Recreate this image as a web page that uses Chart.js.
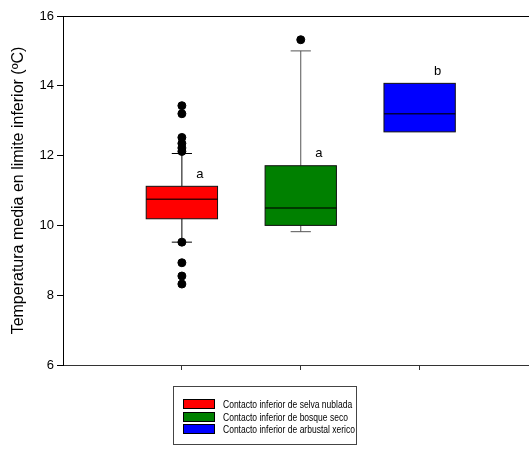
<!DOCTYPE html>
<html>
<head>
<meta charset="utf-8">
<script src="https://cdn.jsdelivr.net/npm/chart.js@4.4.1/dist/chart.umd.min.js"></script>
<style>
  html, body { margin: 0; padding: 0; background: #fff; }
  #wrap { position: relative; width: 529px; height: 451px; }
  #legend {
    position: absolute; left: 173px; top: 386px; width: 184px; height: 59px;
    border: 1px solid #444; box-sizing: border-box; padding-top: 11px;
    font-family: "Liberation Sans", Arial, sans-serif; font-size: 11.5px; color: #000;
  }
  .leg-item { display: flex; align-items: center; height: 12.5px; padding-left: 9px; white-space: nowrap; }
  .leg-box { flex: none; width: 30px; height: 8px; border: 1px solid #000; margin-right: 8px; }
  .leg-text { display: inline-block; transform: scaleX(0.74); transform-origin: left center; }
</style>
</head>
<body>
<div id="wrap">
  <canvas id="chart" width="529" height="451"></canvas>
  <div id="legend"></div>
</div>
<script>
// カテゴリと箱ひげ図の値
const categories = [
  'Contacto inferior de selva nublada',
  'Contacto inferior de bosque seco',
  'Contacto inferior de arbustal xerico',
];
const boxColors = ['#ff0000', '#008000', '#0000ff'];
const q1 = [10.19, 10.0, 12.68];
const medians = [10.75, 10.5, 13.2];
const q3 = [11.12, 11.71, 14.07];
const whiskerLow = [9.52, 9.82, null];
const whiskerHigh = [12.06, 15.0, null];
const outliers = [
  [13.43, 13.2, 12.52, 12.35, 12.22, 12.12, 9.52, 8.93, 8.55, 8.32],
  [15.32],
  [],
];
const letters = ['a', 'a', 'b'];
const yTicks = [6, 8, 10, 12, 14, 16];

const FONT = '"Liberation Sans", Arial, sans-serif';

// 外れ値を散布図のデータに変換
const outlierPoints = [];
outliers.forEach((vals, i) => {
  vals.forEach((v) => outlierPoints.push({ x: i + 1, y: v }));
});

// 箱ひげ図を描くプラグイン
const boxPlugin = {
  id: 'boxes',
  beforeDatasetsDraw(chart) {
    const { ctx, scales: { x, y } } = chart;
    const halfW = 0.3;
    const capW = 0.085;
    ctx.save();
    categories.forEach((c, i) => {
      const cx = x.getPixelForValue(i + 1);
      const left = x.getPixelForValue(i + 1 - halfW);
      const right = x.getPixelForValue(i + 1 + halfW);
      const capL = x.getPixelForValue(i + 1 - capW);
      const capR = x.getPixelForValue(i + 1 + capW);
      const top = y.getPixelForValue(q3[i]);
      const bottom = y.getPixelForValue(q1[i]);

      // ひげ
      ctx.strokeStyle = i === 0 ? '#000' : '#555';
      ctx.lineWidth = 1;
      if (whiskerHigh[i] != null) {
        const wy = y.getPixelForValue(whiskerHigh[i]);
        ctx.beginPath();
        ctx.moveTo(cx, top); ctx.lineTo(cx, wy);
        ctx.moveTo(capL, wy); ctx.lineTo(capR, wy);
        ctx.stroke();
      }
      if (whiskerLow[i] != null) {
        const wy = y.getPixelForValue(whiskerLow[i]);
        ctx.beginPath();
        ctx.moveTo(cx, bottom); ctx.lineTo(cx, wy);
        ctx.moveTo(capL, wy); ctx.lineTo(capR, wy);
        ctx.stroke();
      }

      // 箱
      ctx.fillStyle = boxColors[i];
      ctx.fillRect(left, top, right - left, bottom - top);
      ctx.strokeStyle = '#111';
      ctx.strokeRect(left, top, right - left, bottom - top);

      // 中央値
      const my = y.getPixelForValue(medians[i]);
      ctx.strokeStyle = 'rgba(0,0,0,0.75)';
      ctx.lineWidth = 1.5;
      ctx.beginPath();
      ctx.moveTo(left, my); ctx.lineTo(right, my);
      ctx.stroke();

      // 有意差の文字
      ctx.fillStyle = '#000';
      ctx.font = '13px ' + FONT;
      ctx.textAlign = 'center';
      ctx.textBaseline = 'middle';
      ctx.fillText(letters[i], cx + 18, top - 12);
    });
    ctx.restore();
  },
  afterDraw(chart) {
    // 上枠線
    const { ctx, chartArea } = chart;
    ctx.save();
    ctx.strokeStyle = '#000';
    ctx.lineWidth = 1;
    ctx.beginPath();
    ctx.moveTo(chartArea.left, chartArea.top + 0.5);
    ctx.lineTo(chart.width, chartArea.top + 0.5);
    ctx.stroke();
    ctx.restore();
  },
};

new Chart(document.getElementById('chart').getContext('2d'), {
  type: 'scatter',
  data: {
    datasets: [{
      data: outlierPoints,
      backgroundColor: '#000',
      borderColor: '#000',
      pointRadius: 4,
      pointHoverRadius: 4,
      clip: false,
    }],
  },
  options: {
    responsive: false,
    animation: false,
    layout: { autoPadding: false, padding: { top: 16, right: 0, bottom: 0, left: 0 } },
    plugins: { legend: { display: false }, tooltip: { enabled: false } },
    scales: {
      x: {
        type: 'linear',
        min: 0,
        max: 3.92,
        afterBuildTicks: (s) => { s.ticks = [1, 2, 3].map((v) => ({ value: v })); },
        afterFit: (s) => { s.height = 86; s.paddingLeft = 0; s.paddingRight = 0; },
        ticks: { display: false },
        grid: { drawOnChartArea: false, drawTicks: true, tickLength: 5, color: '#333' },
        border: { display: true, color: '#333', width: 1 },
      },
      y: {
        min: 6,
        max: 16,
        afterBuildTicks: (s) => { s.ticks = yTicks.map((v) => ({ value: v })); },
        afterFit: (s) => { s.width = 63; s.paddingTop = 0; s.paddingBottom = 0; },
        ticks: { color: '#000', font: { family: FONT, size: 13 }, padding: 3 },
        grid: { drawOnChartArea: false, drawTicks: true, tickLength: 6, color: '#000' },
        border: { display: true, color: '#000', width: 1 },
        title: {
          display: true,
          text: 'Temperatura media en limite inferior (ºC)',
          color: '#000',
          font: { family: FONT, size: 16 },
          padding: { top: 9, bottom: 0 },
        },
      },
    },
  },
  plugins: [boxPlugin],
});

// 凡例を生成
const legend = document.getElementById('legend');
categories.forEach((c, i) => {
  const item = document.createElement('div');
  item.className = 'leg-item';
  item.innerHTML = `<span class="leg-box" style="background:${boxColors[i]}"></span><span class="leg-text">${c}</span>`;
  legend.appendChild(item);
});
</script>
</body>
</html>
